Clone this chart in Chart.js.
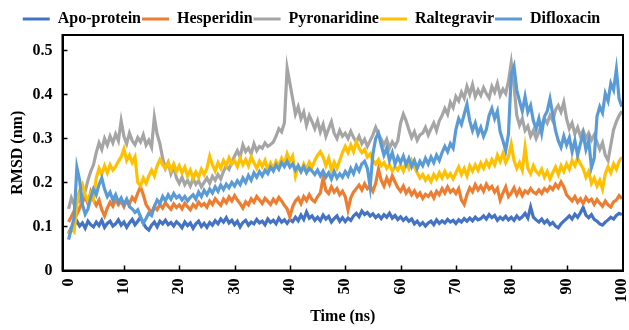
<!DOCTYPE html>
<html>
<head>
<meta charset="utf-8">
<script src="https://cdn.jsdelivr.net/npm/chart.js@4.4.1/dist/chart.umd.min.js"></script>
<style>
  html, body { margin: 0; padding: 0; background: #ffffff; }
  #wrap { width: 629px; height: 330px; }
</style>
</head>
<body>
<div id="wrap"><canvas id="rmsdChart" width="629" height="330"></canvas></div>
<script>
// Series names and colours (Office palette)
const seriesNames = ['Apo-protein', 'Hesperidin', 'Pyronaridine', 'Raltegravir', 'Difloxacin'];
const seriesColors = ['#4472C4', '#ED7D31', '#A5A5A5', '#FFC000', '#5B9BD5'];

// Tick labels
const xTicks = [0, 10, 20, 30, 40, 50, 60, 70, 80, 90, 100];
const yTicks = [0, 0.1, 0.2, 0.3, 0.4, 0.5];

const apoProtein = [
  0.085, 0.098, 0.104, 0.112, 0.101, 0.108, 0.096, 0.112, 0.104, 0.099,
  0.110, 0.102, 0.114, 0.098, 0.107, 0.112, 0.101, 0.106, 0.115, 0.103,
  0.110, 0.098, 0.108, 0.116, 0.104, 0.112, 0.121, 0.108, 0.097, 0.092,
  0.103, 0.110, 0.099, 0.112, 0.106, 0.114, 0.104, 0.109, 0.101, 0.111,
  0.105, 0.097, 0.110, 0.102, 0.108, 0.096, 0.106, 0.112, 0.100, 0.107,
  0.098, 0.109, 0.103, 0.113, 0.106, 0.117, 0.110, 0.120, 0.108, 0.114,
  0.104, 0.112, 0.099, 0.109, 0.114, 0.103, 0.110, 0.106, 0.116, 0.108,
  0.112, 0.104, 0.117, 0.109, 0.114, 0.106, 0.119, 0.110, 0.115, 0.107,
  0.116, 0.111, 0.121, 0.113, 0.126, 0.116, 0.133, 0.119, 0.124, 0.114,
  0.121, 0.113, 0.126, 0.117, 0.123, 0.110, 0.118, 0.124, 0.112, 0.120,
  0.111, 0.119, 0.114, 0.124, 0.130, 0.122, 0.135, 0.127, 0.132, 0.124,
  0.129, 0.120, 0.126, 0.118, 0.127, 0.121, 0.130, 0.119, 0.125, 0.116,
  0.122, 0.114, 0.120, 0.112, 0.117, 0.106, 0.112, 0.103, 0.109, 0.101,
  0.108, 0.112, 0.104, 0.115, 0.107, 0.113, 0.108, 0.116, 0.110, 0.114,
  0.107, 0.115, 0.110, 0.118, 0.112, 0.119, 0.113, 0.121, 0.115, 0.118,
  0.124, 0.117, 0.127, 0.120, 0.125, 0.114, 0.121, 0.116, 0.123, 0.115,
  0.121, 0.114, 0.124, 0.117, 0.122, 0.130, 0.119, 0.144, 0.121, 0.115,
  0.110, 0.117, 0.108, 0.114, 0.104, 0.109, 0.101, 0.097, 0.106, 0.112,
  0.118, 0.124, 0.117, 0.128, 0.121, 0.131, 0.143, 0.126, 0.120, 0.127,
  0.116, 0.112, 0.106, 0.103, 0.110, 0.115, 0.121, 0.117, 0.125, 0.130,
  0.127
];
const hesperidin = [
  0.110, 0.122, 0.135, 0.128, 0.142, 0.155, 0.168, 0.152, 0.178, 0.160,
  0.148, 0.160, 0.138, 0.124, 0.142, 0.155, 0.146, 0.162, 0.150, 0.158,
  0.145, 0.160, 0.152, 0.166, 0.158, 0.176, 0.190, 0.172, 0.150, 0.140,
  0.132, 0.145, 0.138, 0.150, 0.142, 0.154, 0.146, 0.139, 0.151, 0.143,
  0.149, 0.140, 0.153, 0.145, 0.138, 0.150, 0.143, 0.155, 0.147, 0.152,
  0.144, 0.158, 0.150, 0.163, 0.155, 0.148, 0.162, 0.154, 0.167, 0.158,
  0.170, 0.160, 0.152, 0.142, 0.156, 0.149, 0.163, 0.155, 0.168, 0.160,
  0.152, 0.164, 0.157, 0.150, 0.162, 0.154, 0.166, 0.158, 0.148, 0.140,
  0.122, 0.145, 0.158, 0.165, 0.152, 0.168, 0.159, 0.172, 0.161, 0.156,
  0.168, 0.176, 0.210, 0.182, 0.175, 0.190, 0.178, 0.186, 0.172, 0.180,
  0.168, 0.138, 0.165, 0.178, 0.186, 0.194, 0.183, 0.197, 0.186, 0.192,
  0.180, 0.198, 0.230, 0.205, 0.192, 0.210, 0.196, 0.215, 0.201, 0.188,
  0.180, 0.192, 0.176, 0.185, 0.172, 0.181, 0.168, 0.176, 0.164, 0.173,
  0.168, 0.177, 0.165, 0.180, 0.172, 0.186, 0.176, 0.190, 0.178, 0.184,
  0.175, 0.186, 0.160, 0.150, 0.172, 0.188, 0.179, 0.195, 0.183, 0.192,
  0.180, 0.196, 0.185, 0.191, 0.178, 0.187, 0.160, 0.176, 0.190, 0.168,
  0.176, 0.188, 0.172, 0.184, 0.170, 0.181, 0.176, 0.186, 0.178, 0.174,
  0.183, 0.175, 0.186, 0.180, 0.190, 0.184, 0.196, 0.188, 0.201, 0.190,
  0.172, 0.165, 0.158, 0.168, 0.155, 0.163, 0.152, 0.166, 0.157, 0.162,
  0.150, 0.161, 0.153, 0.146, 0.158, 0.149, 0.144, 0.156, 0.160, 0.170,
  0.163
];
const pyronaridine = [
  0.140, 0.165, 0.150, 0.172, 0.158, 0.168, 0.180, 0.205, 0.225, 0.240,
  0.268, 0.290, 0.275, 0.300, 0.285, 0.305, 0.290, 0.310, 0.295, 0.340,
  0.305, 0.288, 0.312, 0.295, 0.286, 0.302, 0.292, 0.308, 0.285, 0.296,
  0.280, 0.348, 0.310, 0.288, 0.255, 0.232, 0.245, 0.220, 0.236, 0.210,
  0.198, 0.212, 0.195, 0.205, 0.192, 0.208, 0.196, 0.204, 0.190, 0.200,
  0.210, 0.198, 0.214, 0.205, 0.218, 0.208, 0.225, 0.238, 0.230, 0.245,
  0.260, 0.272, 0.258, 0.285, 0.270, 0.278, 0.265, 0.288, 0.272, 0.282,
  0.278, 0.290, 0.282, 0.286, 0.292, 0.305, 0.322, 0.315, 0.335, 0.460,
  0.425, 0.390, 0.355, 0.372, 0.345, 0.360, 0.330, 0.352, 0.338, 0.322,
  0.340, 0.315, 0.332, 0.305, 0.322, 0.338, 0.312, 0.300, 0.318, 0.305,
  0.312, 0.300, 0.316, 0.302, 0.292, 0.305, 0.288, 0.298, 0.282, 0.295,
  0.308, 0.325, 0.310, 0.298, 0.285, 0.298, 0.278, 0.292, 0.282, 0.295,
  0.335, 0.355, 0.340, 0.320, 0.302, 0.315, 0.296, 0.308, 0.312, 0.325,
  0.308, 0.322, 0.335, 0.318, 0.340, 0.352, 0.368, 0.355, 0.382, 0.370,
  0.395, 0.385, 0.405, 0.392, 0.418, 0.400, 0.422, 0.395, 0.410, 0.398,
  0.415, 0.402, 0.392, 0.418, 0.405, 0.425, 0.398, 0.412, 0.402, 0.430,
  0.472, 0.420, 0.352, 0.330, 0.345, 0.318, 0.328, 0.305, 0.318, 0.300,
  0.315, 0.332, 0.345, 0.335, 0.352, 0.340, 0.365, 0.375, 0.360, 0.382,
  0.345, 0.322, 0.335, 0.310, 0.325, 0.305, 0.318, 0.300, 0.312, 0.296,
  0.308, 0.292, 0.275, 0.290, 0.262, 0.250, 0.285, 0.320, 0.338, 0.352,
  0.362
];
const raltegravir = [
  0.082, 0.095, 0.088, 0.150, 0.182, 0.195, 0.172, 0.158, 0.175, 0.162,
  0.210, 0.232, 0.218, 0.238, 0.222, 0.240, 0.228, 0.236, 0.248, 0.258,
  0.276, 0.250, 0.262, 0.245, 0.258, 0.200, 0.192, 0.210, 0.198, 0.215,
  0.228, 0.215, 0.238, 0.252, 0.240, 0.232, 0.246, 0.228, 0.242, 0.225,
  0.238, 0.222, 0.235, 0.215, 0.228, 0.210, 0.224, 0.212, 0.230, 0.218,
  0.232, 0.260, 0.240, 0.226, 0.245, 0.232, 0.250, 0.238, 0.256, 0.242,
  0.250, 0.236, 0.255, 0.240, 0.252, 0.238, 0.258, 0.245, 0.232, 0.248,
  0.236, 0.250, 0.228, 0.244, 0.232, 0.248, 0.238, 0.255, 0.242, 0.265,
  0.248, 0.260, 0.215, 0.238, 0.225, 0.242, 0.230, 0.246, 0.235, 0.250,
  0.262, 0.270, 0.258, 0.238, 0.255, 0.228, 0.246, 0.232, 0.250, 0.268,
  0.282, 0.268, 0.285, 0.270, 0.292, 0.278, 0.268, 0.275, 0.258, 0.265,
  0.250, 0.242, 0.252, 0.238, 0.245, 0.232, 0.240, 0.226, 0.236, 0.228,
  0.240, 0.226, 0.246, 0.232, 0.250, 0.235, 0.222, 0.210, 0.218, 0.205,
  0.214, 0.202, 0.218, 0.208, 0.222, 0.210, 0.225, 0.212, 0.220, 0.208,
  0.222, 0.235, 0.218, 0.232, 0.215, 0.238, 0.226, 0.240, 0.228, 0.244,
  0.232, 0.248, 0.236, 0.252, 0.240, 0.262, 0.248, 0.266, 0.245, 0.258,
  0.287, 0.250, 0.232, 0.245, 0.228, 0.280, 0.232, 0.220, 0.238, 0.225,
  0.218, 0.230, 0.212, 0.225, 0.208, 0.222, 0.235, 0.218, 0.238, 0.225,
  0.242, 0.230, 0.250, 0.238, 0.256, 0.242, 0.232, 0.212, 0.225, 0.198,
  0.210, 0.192, 0.205, 0.185, 0.220, 0.236, 0.222, 0.242, 0.230, 0.248,
  0.257
];
const difloxacin = [
  0.070, 0.095, 0.120, 0.234, 0.205, 0.150, 0.128, 0.140, 0.165, 0.185,
  0.172, 0.195, 0.210, 0.185, 0.168, 0.178, 0.160, 0.172, 0.155, 0.165,
  0.150, 0.162, 0.145, 0.140, 0.132, 0.138, 0.122, 0.107, 0.118, 0.130,
  0.125, 0.145, 0.160, 0.152, 0.168, 0.158, 0.172, 0.162, 0.175, 0.165,
  0.170, 0.160, 0.168, 0.158, 0.166, 0.172, 0.162, 0.178, 0.168, 0.182,
  0.172, 0.185, 0.176, 0.190, 0.180, 0.194, 0.184, 0.196, 0.188, 0.200,
  0.192, 0.204, 0.195, 0.210, 0.200, 0.216, 0.205, 0.222, 0.212, 0.225,
  0.215, 0.228, 0.220, 0.235, 0.226, 0.240, 0.230, 0.245, 0.236, 0.248,
  0.235, 0.242, 0.228, 0.238, 0.225, 0.236, 0.222, 0.232, 0.226, 0.218,
  0.228, 0.215, 0.226, 0.212, 0.222, 0.208, 0.225, 0.210, 0.220, 0.212,
  0.225, 0.215, 0.232, 0.220, 0.238, 0.226, 0.242, 0.248, 0.232, 0.190,
  0.265, 0.300, 0.312, 0.285, 0.262, 0.278, 0.250, 0.268, 0.242, 0.258,
  0.245, 0.260, 0.240, 0.255, 0.236, 0.250, 0.232, 0.248, 0.238, 0.255,
  0.242, 0.258, 0.245, 0.262, 0.250, 0.268, 0.282, 0.270, 0.288, 0.278,
  0.320, 0.345, 0.332, 0.355, 0.378, 0.340, 0.318, 0.335, 0.310, 0.325,
  0.305, 0.320, 0.352, 0.368, 0.345, 0.362, 0.315, 0.295, 0.272, 0.310,
  0.445, 0.464, 0.410, 0.385, 0.362, 0.395, 0.360, 0.375, 0.340, 0.322,
  0.345, 0.312, 0.350, 0.362, 0.390, 0.355, 0.318, 0.295, 0.280, 0.305,
  0.285, 0.302, 0.270, 0.295, 0.262, 0.288, 0.310, 0.275, 0.295, 0.234,
  0.255, 0.350, 0.372, 0.358, 0.402, 0.385, 0.425, 0.410, 0.457, 0.390,
  0.372
];

// Sampling grid: 0 to 100 ns every 0.5 ns
const times = [];
for (let i = 0; i <= 200; i++) times.push(i * 0.5);

const allSeries = [apoProtein, hesperidin, pyronaridine, raltegravir, difloxacin];

const serif = '"Liberation Serif", "Times New Roman", serif';
const boldFont = { family: serif, size: 16, weight: 'bold' };

// Black frame round the plot area with small inward tick marks
const frameAndTicks = {
  id: 'frameAndTicks',
  afterDatasetsDraw(chart) {
    const { ctx, chartArea: a, scales } = chart;
    ctx.save();
    ctx.strokeStyle = '#000000';
    ctx.lineWidth = 1.5;
    yTicks.forEach(v => {
      if (v === 0) return;
      const y = Math.round(scales.y.getPixelForValue(v)) + 0.5;
      ctx.beginPath();
      ctx.moveTo(a.left, y);
      ctx.lineTo(a.left + 5, y);
      ctx.stroke();
    });
    xTicks.forEach(v => {
      if (v === 0 || v === 100) return;
      const x = Math.round(scales.x.getPixelForValue(v)) + 0.5;
      ctx.beginPath();
      ctx.moveTo(x, a.bottom);
      ctx.lineTo(x, a.bottom - 5);
      ctx.stroke();
    });
    ctx.lineWidth = 2;
    ctx.strokeRect(a.left, a.top, a.right - a.left, a.bottom - a.top);
    ctx.restore();
  }
};

// Tighter space between legend and plot
const legendGap = {
  id: 'legendGap',
  beforeInit(chart) {
    const fit = chart.legend.fit;
    chart.legend.fit = function() {
      fit.bind(chart.legend)();
      this.height -= 2;
    };
  }
};

const ctx = document.getElementById('rmsdChart').getContext('2d');
const rmsdChart = new Chart(ctx, {
  type: 'line',
  data: {
    datasets: seriesNames.map((name, i) => ({
      label: name,
      data: times.map((t, k) => ({ x: t, y: allSeries[i][k] })),
      borderColor: seriesColors[i],
      backgroundColor: seriesColors[i],
      borderWidth: 3.2,
      pointRadius: 0,
      tension: 0,
      fill: false,
      order: seriesNames.length - 1 - i // later series drawn on top
    }))
  },
  options: {
    responsive: false,
    animation: false,
    layout: { padding: { top: 10, right: 6, left: 0, bottom: 0 } },
    plugins: {
      tooltip: { enabled: false },
      legend: {
        display: true,
        position: 'top',
        labels: {
          font: boldFont,
          color: '#000000',
          boxWidth: 27,
          boxHeight: 3,
          padding: 1,
          generateLabels: chart => chart.data.datasets.map((ds, i) => ({
            text: ds.label,
            fillStyle: ds.borderColor,
            strokeStyle: ds.borderColor,
            lineWidth: 0,
            hidden: false,
            fontColor: '#000000',
            datasetIndex: i
          }))
        }
      }
    },
    scales: {
      x: {
        type: 'linear',
        min: -1.1,
        max: 100.2,
        afterBuildTicks: scale => { scale.ticks = xTicks.map(v => ({ value: v })); },
        afterFit: scale => {
          scale.height = 59.5;
          scale.paddingLeft = 0;
          scale.paddingRight = 0;
        },
        grid: { display: false, drawTicks: false },
        border: { display: true, color: '#000000', width: 2 },
        ticks: {
          autoSkip: false,
          minRotation: 90,
          maxRotation: 90,
          padding: 8,
          color: '#000000',
          font: boldFont
        },
        title: {
          display: true,
          text: 'Time (ns)',
          color: '#000000',
          font: boldFont,
          padding: { top: 4, bottom: 4 }
        }
      },
      y: {
        min: 0,
        max: 0.535,
        afterBuildTicks: scale => { scale.ticks = yTicks.map(v => ({ value: v })); },
        afterFit: scale => {
          scale.width = 62.5;
          scale.paddingTop = 0;
          scale.paddingBottom = 0;
        },
        grid: { display: false, drawTicks: false },
        border: { display: true, color: '#000000', width: 2 },
        ticks: {
          padding: 10,
          color: '#000000',
          font: boldFont,
          callback: v => (v === 0 ? '0' : v.toFixed(1))
        },
        title: {
          display: true,
          text: 'RMSD (nm)',
          color: '#000000',
          font: boldFont,
          padding: { top: 8, bottom: 0 }
        }
      }
    }
  },
  plugins: [frameAndTicks, legendGap]
});
</script>
</body>
</html>
